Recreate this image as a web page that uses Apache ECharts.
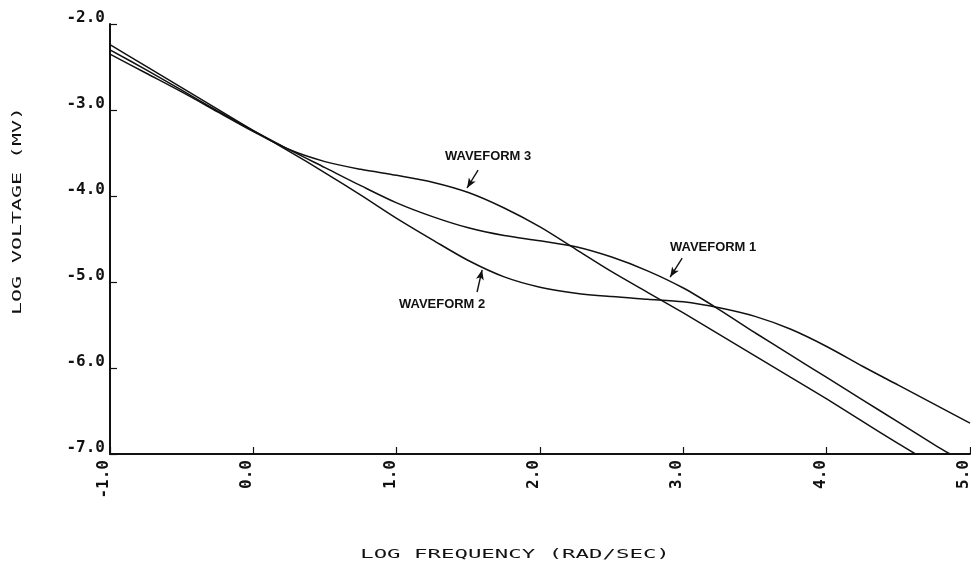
<!DOCTYPE html>
<html>
<head>
<meta charset="utf-8">
<script src="https://cdn.jsdelivr.net/npm/echarts@6/dist/echarts.min.js"></script>
<style>
  html, body { margin: 0; padding: 0; background: #fff; }
  #chart { width: 971px; height: 571px; }
</style>
</head>
<body>
<div id="chart"></div>
<script>
// tick values of both axes
const xTicks = [-1, 0, 1, 2, 3, 4, 5];
const yTicks = [-7, -6, -5, -4, -3, -2];

// [log frequency, log voltage]
const waveform1 = [
  [-1, -2.30], [-0.75, -2.53], [-0.5, -2.77], [-0.25, -3.01], [0, -3.24], [0.25, -3.46],
  [0.5, -3.67], [0.75, -3.88], [1.0, -4.08], [1.25, -4.24], [1.5, -4.37], [1.75, -4.46],
  [2.0, -4.52], [2.25, -4.59], [2.5, -4.71], [2.75, -4.87], [3.0, -5.07], [3.25, -5.32],
  [3.5, -5.59], [3.75, -5.85], [4.0, -6.11], [4.25, -6.37], [4.5, -6.63], [4.75, -6.89],
  [4.86, -7.0]
];
const waveform2 = [
  [-1, -2.24], [-0.75, -2.49], [-0.5, -2.74], [-0.25, -2.99], [0, -3.24], [0.25, -3.48],
  [0.5, -3.73], [0.75, -3.99], [1.0, -4.26], [1.25, -4.51], [1.5, -4.75], [1.75, -4.94],
  [2.0, -5.06], [2.25, -5.13], [2.5, -5.17], [2.75, -5.20], [3.0, -5.23], [3.25, -5.30],
  [3.5, -5.40], [3.75, -5.55], [4.0, -5.75], [4.25, -5.98], [4.5, -6.20], [4.75, -6.42],
  [5.0, -6.64]
];
const waveform3 = [
  [-1, -2.35], [-0.75, -2.57], [-0.5, -2.79], [-0.25, -3.02], [0, -3.25], [0.25, -3.46],
  [0.5, -3.60], [0.75, -3.69], [1.0, -3.76], [1.25, -3.84], [1.5, -3.96], [1.75, -4.14],
  [2.0, -4.36], [2.25, -4.62], [2.5, -4.88], [2.75, -5.12], [3.0, -5.36], [3.25, -5.61],
  [3.5, -5.86], [3.75, -6.11], [4.0, -6.36], [4.25, -6.62], [4.5, -6.88], [4.62, -7.0]
];

// labels with their pointer arrows (data coordinates)
const notes = [
  { text: 'WAVEFORM 1', at: [3.208, -4.605], from: [2.992, -4.721], to: [2.908, -4.942] },
  { text: 'WAVEFORM 2', at: [1.317, -5.267], from: [1.561, -5.116], to: [1.596, -4.860] },
  { text: 'WAVEFORM 3', at: [1.638, -3.547], from: [1.568, -3.698], to: [1.491, -3.907] }
];

const ink = '#111';
const plotFont = '"DejaVu Sans Mono", monospace';

const curve = (name, data, note) => ({
  name,
  type: 'line',
  data,
  smooth: 0.3,
  showSymbol: false,
  silent: true,
  lineStyle: { color: ink, width: 1.5 },
  markLine: {
    silent: true,
    symbol: ['none', 'arrow'],
    symbolSize: [6, 10],
    label: { show: false },
    lineStyle: { color: ink, width: 1.4, type: 'solid' },
    data: [[{ coord: note.from }, { coord: note.to }]]
  }
});

// plotter style: the label sits just above / left of its tick
const tickLabel = {
  verticalAlign: 'bottom',
  lineHeight: 12,
  color: ink,
  fontFamily: plotFont,
  fontWeight: 'bold',
  fontSize: 16,
  formatter: (v) => v.toFixed(1)
};

const chart = echarts.init(document.getElementById('chart'));

const option = {
  animation: false,
  backgroundColor: '#fff',
  grid: { left: 110, right: 1, top: 24, bottom: 117, containLabel: false, outerBoundsMode: 'none' },
  xAxis: {
    type: 'value',
    min: xTicks[0],
    max: xTicks[xTicks.length - 1],
    interval: 1,
    splitLine: { show: false },
    axisLine: { onZero: false, lineStyle: { color: ink, width: 2 } },
    axisTick: { inside: true, length: 7, lineStyle: { color: ink, width: 1.2 } },
    axisLabel: Object.assign({}, tickLabel, { rotate: 90, margin: 6 })
  },
  yAxis: {
    type: 'value',
    min: yTicks[0],
    max: yTicks[yTicks.length - 1],
    interval: 1,
    splitLine: { show: false },
    axisLine: { onZero: false, lineStyle: { color: ink, width: 2 } },
    axisTick: { inside: true, length: 7, lineStyle: { color: ink, width: 1.2 } },
    axisLabel: Object.assign({}, tickLabel, { margin: 5 })
  },
  series: [
    curve('Waveform 1', waveform1, notes[0]),
    curve('Waveform 2', waveform2, notes[1]),
    curve('Waveform 3', waveform3, notes[2])
  ]
};

chart.setOption(option);

// axis titles and waveform labels as plain text
const graphic = [
  {
    type: 'text', x: 515, y: 555, scaleX: 1.72,
    style: { text: 'LOG FREQUENCY (RAD/SEC)', fontFamily: plotFont, fontSize: 13, fill: ink, align: 'center', verticalAlign: 'middle' }
  },
  {
    type: 'text', x: 18, y: 211, rotation: Math.PI / 2, scaleX: 1.66,
    style: { text: 'LOG VOLTAGE (MV)', fontFamily: plotFont, fontSize: 13, fill: ink, align: 'center', verticalAlign: 'middle' }
  }
];
notes.forEach((n) => {
  const p = chart.convertToPixel({ gridIndex: 0 }, n.at);
  graphic.push({
    type: 'text', x: p[0], y: p[1], scaleX: 1.08,
    style: { text: n.text, fontFamily: '"Liberation Sans", Arial, sans-serif', fontWeight: 'bold', fontSize: 12, fill: ink, align: 'center', verticalAlign: 'middle' }
  });
});
chart.setOption({ graphic });
</script>
</body>
</html>
